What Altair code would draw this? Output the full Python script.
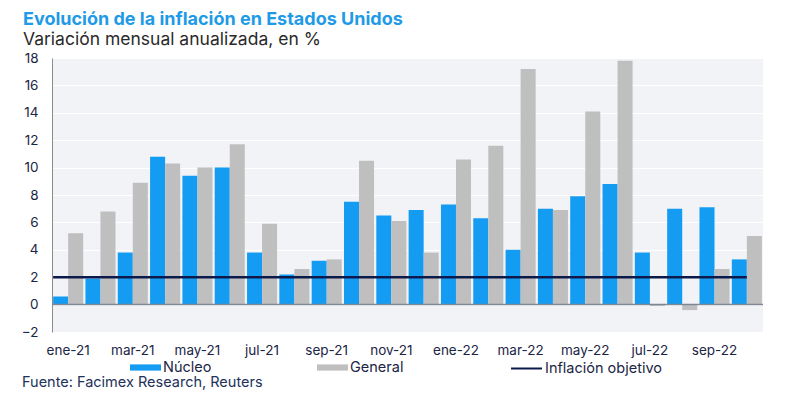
import altair as alt
import pandas as pd

meses = ["ene-21", "feb-21", "mar-21", "abr-21", "may-21", "jun-21", "jul-21",
         "ago-21", "sep-21", "oct-21", "nov-21", "dic-21", "ene-22", "feb-22",
         "mar-22", "abr-22", "may-22", "jun-22", "jul-22", "ago-22", "sep-22", "oct-22"]
nucleo = [0.6, 1.9, 3.8, 10.8, 9.4, 10.0, 3.8, 2.2, 3.2, 7.5, 6.5, 6.9, 7.3, 6.3,
          4.0, 7.0, 7.9, 8.8, 3.8, 7.0, 7.1, 3.3]
general = [5.2, 6.8, 8.9, 10.3, 10.0, 11.7, 5.9, 2.6, 3.3, 10.5, 6.1, 3.8, 10.6, 11.6,
           17.2, 6.9, 14.1, 17.8, -0.1, -0.4, 2.6, 5.0]
objetivo = 2
series = ["Núcleo", "General"]
colores = ["#139CF2", "#BFBFBF"]
serie_linea = "Inflación objetivo"
color_linea = "#0C1A4B"
etiquetas_x = meses[::2]
ticks_y = [-2, 0, 2, 4, 6, 8, 10, 12, 14, 16, 18]
fuente = "Fuente: Facimex Research, Reuters"

FONT = "Inter"
TXT = "#1B2545"

rows = []
for m, n, g in zip(meses, nucleo, general):
    rows.append({"mes": m, "serie": "Núcleo", "valor": n})
    rows.append({"mes": m, "serie": "General", "valor": g})
df = pd.DataFrame(rows)

df_obj = pd.DataFrame({"mes": [meses[0]], "mes2": [meses[-1]], "valor": [objetivo],
                       "serie": [serie_linea]})
df_cero = pd.DataFrame({"valor": [0]})

x_scale = alt.Scale(domain=meses, paddingInner=0.07, paddingOuter=0.035)
y_scale = alt.Scale(domain=[-2, 18], nice=False, zero=False)

x_axis = alt.Axis(values=etiquetas_x, labelAngle=0, ticks=False, domain=False,
                  grid=False, labelPadding=11, labelFontSize=13.5,
                  labelFont=FONT, labelColor=TXT, labelOverlap=False)
y_axis = alt.Axis(values=ticks_y, ticks=False, domain=True,
                  domainColor="#8C8C8C", domainWidth=1,
                  grid=True, gridColor="#FFFFFF", gridWidth=1,
                  labelPadding=14, labelFontSize=13.5, labelFont=FONT,
                  labelColor=TXT, labelOverlap=False, labelFlush=False)

bars = alt.Chart(df).mark_bar().encode(
    x=alt.X("mes:N", sort=meses, scale=x_scale, title=None, axis=x_axis),
    xOffset=alt.XOffset("serie:N", sort=series,
                        scale=alt.Scale(domain=series, paddingInner=0, paddingOuter=0)),
    y=alt.Y("valor:Q", scale=y_scale, title=None, axis=y_axis),
    color=alt.Color("serie:N", scale=alt.Scale(domain=series, range=colores),
                    legend=alt.Legend(orient="none", legendX=78, legendY=294,
                                      direction="horizontal", columns=2,
                                      columnPadding=105, title=None, padding=0,
                                      symbolType="M-1,-0.2H1V0.2H-1Z", symbolSize=961,
                                      symbolStrokeWidth=0, labelOffset=2,
                                      labelFontSize=14.5, labelFont=FONT, labelColor=TXT)),
)

cero = alt.Chart(df_cero).mark_rule(color="#7F8694", strokeWidth=1.5).encode(
    y=alt.Y("valor:Q", scale=y_scale, title=None, axis=y_axis)
)

linea = alt.Chart(df_obj).mark_rule(strokeWidth=2.5).encode(
    x=alt.X("mes:N", sort=meses, scale=x_scale, bandPosition=0, title=None, axis=x_axis),
    x2=alt.X2("mes2", bandPosition=0.5),
    y=alt.Y("valor:Q", scale=y_scale, title=None, axis=y_axis),
    stroke=alt.Stroke("serie:N", scale=alt.Scale(domain=[serie_linea], range=[color_linea]),
                      legend=alt.Legend(orient="none", legendX=458, legendY=294,
                                        title=None, padding=0, symbolType="stroke",
                                        symbolSize=961, symbolStrokeWidth=2,
                                        labelOffset=2, labelFontSize=14.5, labelFont=FONT,
                                        labelColor=TXT)),
)

nota = alt.Chart(pd.DataFrame({"t": [fuente]})).mark_text(
    align="left", baseline="alphabetic", font=FONT, fontSize=14.5, color="#22315A"
).encode(text="t:N", x=alt.value(-30), y=alt.value(329))

chart = alt.layer(bars, cero, linea, nota).properties(
    width=711, height=274,
    autosize=alt.AutoSizeParams(type="none"),
    padding={"left": 44, "top": 50, "right": 29, "bottom": 62},
    title=alt.TitleParams(
        text="Evolución de la inflación en Estados Unidos",
        subtitle="Variación mensual anualizada, en %",
        anchor="start", frame="group", dx=-29, offset=3,
        font=FONT, fontSize=18, fontWeight="bold", color="#1E9AE6",
        subtitleFont=FONT, subtitleFontSize=17.5, subtitleColor="#2A2A2A",
        subtitlePadding=2,
    ),
).configure_view(fill="#F2F3F7", stroke=None).configure_axisY(labelOverlap=False)

chart.save("out.html", embed_options={"renderer": "svg", "actions": False})
